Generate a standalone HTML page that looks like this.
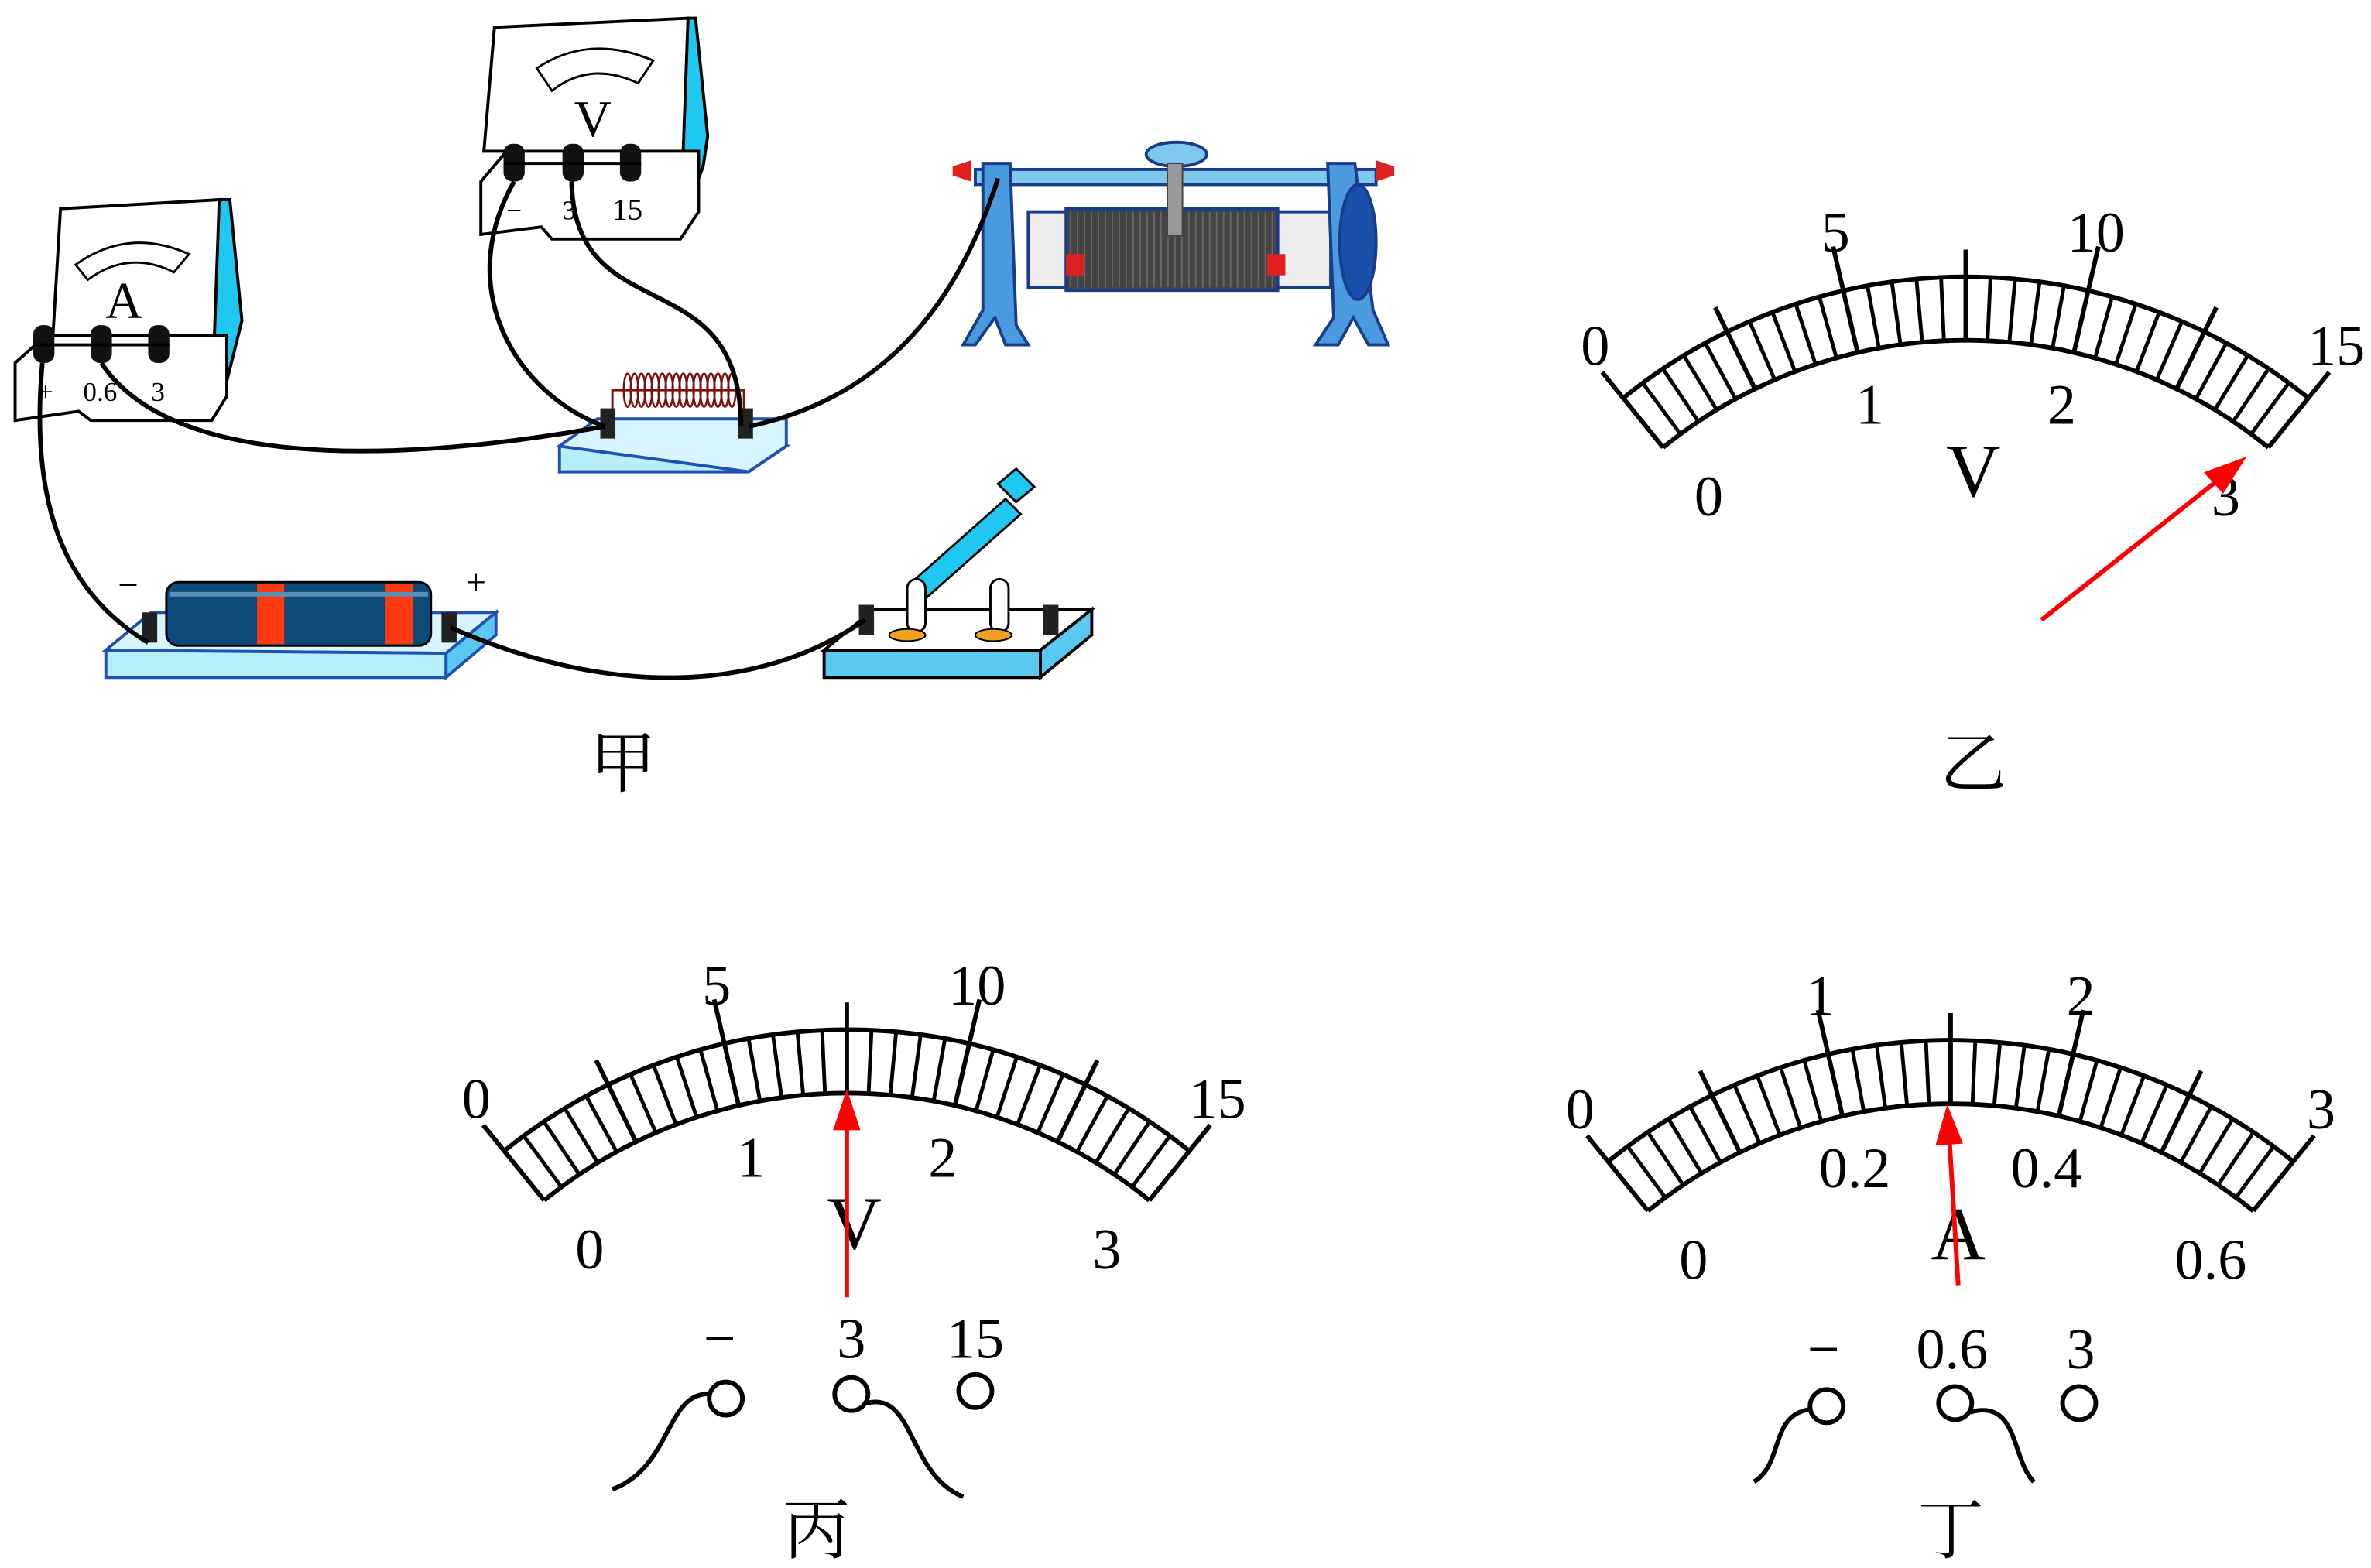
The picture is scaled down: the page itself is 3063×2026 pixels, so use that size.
<!DOCTYPE html>
<html><head><meta charset="utf-8"><style>
html,body{margin:0;padding:0;background:#fff}
svg{display:block}
text{font-family:"Liberation Serif","Noto Serif CJK SC",serif;fill:#000}
</style></head><body>
<svg id="s" width="3063" height="2026" viewBox="0 0 1568 1037" xmlns="http://www.w3.org/2000/svg">
<!-- ===== 甲 circuit ===== -->
<g stroke="#000" stroke-width="2">
<!-- ammeter -->
<path d="M40,138 L145,132 L152,222 L35,222 Z" fill="#fff"/>
<path d="M145,132 L152,132 L160,212 L150,252 L140,272 Z" fill="#1ec8f0"/>
<path d="M10,240 L30,222 L150,222 L150,262 L140,278 L60,278 L52,272 L10,278 Z" fill="#fff"/>
<path d="M50,175 Q85,150 125,168 L115,180 Q85,165 58,185 Z" fill="#fff" stroke-width="1.5"/>
<!-- voltmeter -->
<path d="M327,18 L455,12 L462,100 L320,100 Z" fill="#fff"/>
<path d="M455,12 L460,12 L468,90 L465,110 L450,150 Z" fill="#1ec8f0"/>
<path d="M318,120 L335,100 L462,100 L462,140 L450,158 L365,158 L358,150 L318,155 Z" fill="#fff"/>
<path d="M355,45 Q390,22 432,40 L422,55 Q390,40 365,60 Z" fill="#fff" stroke-width="1.5"/>
</g>
<text x="82" y="210" font-size="34" text-anchor="middle">A</text>
<text x="392" y="90" font-size="34" text-anchor="middle">V</text>
<text x="25" y="265" font-size="18">+</text><text x="55" y="265" font-size="18">0.6</text><text x="100" y="265" font-size="18">3</text>
<text x="335" y="145" font-size="18">−</text><text x="372" y="145" font-size="18">3</text><text x="405" y="145" font-size="20">15</text>
<g fill="#111"><rect x="22" y="215" width="14" height="25" rx="6"/><rect x="60" y="215" width="14" height="25" rx="6"/><rect x="98" y="215" width="14" height="25" rx="6"/>
<rect x="333" y="95" width="14" height="25" rx="6"/><rect x="372" y="95" width="14" height="25" rx="6"/><rect x="410" y="95" width="14" height="25" rx="6"/></g>
<line x1="22" y1="228" x2="112" y2="228" stroke="#000" stroke-width="2"/>
<line x1="333" y1="108" x2="424" y2="108" stroke="#000" stroke-width="2"/>
<!-- coil board -->
<path d="M370,295 L520,295 L495,312 L370,312 Z" fill="#b8eefc" stroke="#2050b0" stroke-width="2"/>
<path d="M395,277 L520,277 L520,295 L495,312 L370,295 Z" fill="#d8f6ff" stroke="#2050b0" stroke-width="2"/>
<path d="M405,280 L405,258 L492,258 L492,280" fill="none" stroke="#7a1010" stroke-width="1.5"/>
<g stroke="#7a1010" stroke-width="1.3" fill="none" id="coil"></g>
<rect x="397" y="270" width="10" height="20" fill="#222"/><rect x="488" y="270" width="10" height="20" fill="#222"/>
<!-- rheostat -->
<g stroke="#1a3d8a" stroke-width="2">
<rect x="645" y="112" width="265" height="10" fill="#7ec8ee"/>
<rect x="680" y="140" width="200" height="50" fill="#eee"/>
<rect x="705" y="138" width="140" height="54" fill="#444"/>
<path d="M650,108 L668,108 L672,215 L680,228 L665,228 L658,210 L645,228 L637,228 L650,205 Z" fill="#4a9ae0"/>
<path d="M878,108 L896,108 L908,205 L918,228 L905,228 L895,210 L885,228 L870,228 L882,210 Z" fill="#4a9ae0"/>
<ellipse cx="898" cy="160" rx="12" ry="38" fill="#1a4faa"/>
<ellipse cx="778" cy="102" rx="20" ry="8" fill="#7ec8ee"/>
</g>
<g stroke="#666" stroke-width="1" id="rh"></g>
<rect x="772" y="108" width="10" height="48" fill="#999" stroke="#444"/>
<g fill="#e02020"><path d="M630,110 l12,-4 v14 l-12,-4z"/><path d="M922,110 l-12,-4 v14 l12,-4z"/><rect x="705" y="168" width="12" height="14"/><rect x="838" y="168" width="12" height="14"/></g>
<!-- battery -->
<path d="M70,430 L100,405 L328,405 L295,432 Z" fill="#d8f6ff" stroke="#2050b0" stroke-width="2"/>
<path d="M70,430 L295,432 L295,448 L70,448 Z" fill="#b8eefc" stroke="#2050b0" stroke-width="2"/>
<path d="M295,432 L328,405 L328,420 L295,448 Z" fill="#5ac8f0" stroke="#2050b0" stroke-width="2"/>
<rect x="110" y="385" width="175" height="42" rx="8" fill="#0c4a78" stroke="#000" stroke-width="1.5"/>
<rect x="170" y="386" width="18" height="40" fill="#ff3a10"/><rect x="255" y="386" width="18" height="40" fill="#ff3a10"/>
<line x1="112" y1="393" x2="283" y2="393" stroke="#5a8fb8" stroke-width="3"/>
<rect x="94" y="405" width="10" height="20" fill="#222"/><rect x="292" y="405" width="10" height="20" fill="#222"/>
<text x="78" y="395" font-size="24">−</text><text x="308" y="393" font-size="24">+</text>
<!-- switch -->
<path d="M545,430 L578,403 L722,403 L688,430 Z" fill="#fff" stroke="#000" stroke-width="2"/>
<path d="M545,430 L688,430 L688,448 L545,448 Z" fill="#5ac8f0" stroke="#000" stroke-width="2"/>
<path d="M688,430 L722,403 L722,420 L688,448 Z" fill="#5ac8f0" stroke="#000" stroke-width="2"/>
<path d="M603,385 L665,330 L675,340 L613,395 Z" fill="#1ec8f0" stroke="#000" stroke-width="1.5"/>
<path d="M660,320 l12,-10 l12,12 l-12,10 z" fill="#1ec8f0" stroke="#000" stroke-width="1.5"/>
<rect x="600" y="383" width="12" height="35" rx="6" fill="#fff" stroke="#000" stroke-width="1.5"/>
<rect x="655" y="383" width="12" height="35" rx="6" fill="#fff" stroke="#000" stroke-width="1.5"/>
<ellipse cx="600" cy="420" rx="12" ry="4" fill="#f0a020" stroke="#000"/><ellipse cx="657" cy="420" rx="12" ry="4" fill="#f0a020" stroke="#000"/>
<rect x="568" y="400" width="10" height="20" fill="#222"/><rect x="690" y="400" width="10" height="20" fill="#222"/>
<!-- wires -->
<g fill="none" stroke="#000" stroke-width="3">
<path d="M28,240 C20,330 40,390 98,425"/>
<path d="M67,240 C120,320 300,300 400,282"/>
<path d="M340,120 C300,190 340,260 400,282"/>
<path d="M378,120 C380,220 490,170 490,282"/>
<path d="M495,282 C600,260 640,180 660,118"/>
<path d="M298,415 C400,460 500,460 572,410"/>
</g>
<text x="412" y="520" font-size="44" text-anchor="middle" font-family="Noto Serif CJK SC,serif">甲</text>
<text x="1305" y="520" font-size="44" text-anchor="middle" font-family="Noto Serif CJK SC,serif">乙</text>
<text x="540" y="1027" font-size="44" text-anchor="middle" font-family="Noto Serif CJK SC,serif">丙</text>
<text x="1290" y="1027" font-size="44" text-anchor="middle" font-family="Noto Serif CJK SC,serif">丁</text>
<g id="m1"></g><g id="m2"></g><g id="m3"></g>
<!-- 乙 pointer -->
<g stroke="#f00" fill="#f00" stroke-width="3">
<line x1="1350" y1="410" x2="1470" y2="315"/><path d="M1482,305 L1460,313 L1470,324 Z"/>
<line x1="560" y1="858" x2="560" y2="740"/><path d="M560,725 L553,746 L567,746 Z"/>
<line x1="1295" y1="850" x2="1289" y2="750"/><path d="M1288,735 L1282,756 L1296,755 Z"/>
</g>
<!-- terminals -->
<g fill="#fff" stroke="#000" stroke-width="3">
<circle cx="480" cy="925" r="11"/><circle cx="563" cy="922" r="11"/><circle cx="645" cy="920" r="11"/>
<circle cx="1208" cy="930" r="11"/><circle cx="1293" cy="928" r="11"/><circle cx="1375" cy="928" r="11"/>
</g>
<g fill="none" stroke="#000" stroke-width="3">
<path d="M470,922 C440,920 445,970 405,985"/><path d="M573,928 C605,920 600,975 637,990"/>
<path d="M1198,932 C1170,935 1180,968 1160,980"/><path d="M1303,934 C1335,925 1330,965 1345,980"/>
</g>
<g font-size="38" text-anchor="middle">
<text x="476" y="898">−</text><text x="563" y="898">3</text><text x="645" y="898">15</text>
<text x="1206" y="905">−</text><text x="1291" y="905">0.6</text><text x="1376" y="905">3</text>
</g>
</svg>
<script>
var NS="http://www.w3.org/2000/svg";
function el(p,t,a,txt){var e=document.createElementNS(NS,t);for(var k in a)e.setAttribute(k,a[k]);if(txt!=null)e.textContent=txt;p.appendChild(e);return e;}
var coil=document.getElementById('coil');
for(var i=0;i<16;i++){var x=415+i*4.6;el(coil,'ellipse',{cx:x,cy:258,rx:2.5,ry:11});}
var rh=document.getElementById('rh');
for(var i=0;i<30;i++){var x=708+i*4.6;el(rh,'line',{x1:x,y1:140,x2:x,y2:190});}
function meter(id,tx,ty,outer,inner,unit){
 var g=document.getElementById(id),cx=tx,cy=ty+360,R=360,r=318,A=39;
 function pt(a,rad){var t=a*Math.PI/180;return [cx+rad*Math.sin(t),cy-rad*Math.cos(t)];}
 var p1=pt(-A,R),p2=pt(A,R),q1=pt(-A,r),q2=pt(A,r);
 el(g,'path',{d:'M'+p1+' A'+R+','+R+' 0 0 1 '+p2,fill:'none',stroke:'#000','stroke-width':3});
 el(g,'path',{d:'M'+q1+' A'+r+','+r+' 0 0 1 '+q2,fill:'none',stroke:'#000','stroke-width':3});
 for(var i=0;i<=30;i++){var a=-A+i*2*A/30,ro=R;
  if(i==0||i==30)ro=R+22;else if(i%10==0)ro=R+30;else if(i%5==0)ro=R+18;
  var a1=pt(a,r),a2=pt(a,ro);el(g,'line',{x1:a1[0],y1:a1[1],x2:a2[0],y2:a2[1],stroke:'#000','stroke-width':i%5==0?3:2.5});}
 var oa=[-38,-12.5,12.5,38];
 for(var j=0;j<4;j++){var p=pt(oa[j],398);el(g,'text',{x:p[0],y:p[1]+12,'font-size':38,'text-anchor':'middle'},outer[j]);}
 var ia=[-13,13];for(var j=0;j<2;j++){var p=pt(ia[j],282);el(g,'text',{x:p[0],y:p[1]+12,'font-size':38,'text-anchor':'middle'},inner[j+1]);}
 el(g,'text',{x:cx-170,y:ty+158,'font-size':38,'text-anchor':'middle'},inner[0]);
 el(g,'text',{x:cx+172,y:ty+158,'font-size':38,'text-anchor':'middle'},inner[3]);
 el(g,'text',{x:cx+5,y:ty+145,'font-size':50,'text-anchor':'middle'},unit);
}
meter('m1',1300,183,['0','5','10','15'],['0','1','2','3'],'V');
meter('m2',560,681,['0','5','10','15'],['0','1','2','3'],'V');
meter('m3',1290,688,['0','1','2','3'],['0','0.2','0.4','0.6'],'A');
</script>
</body></html>
